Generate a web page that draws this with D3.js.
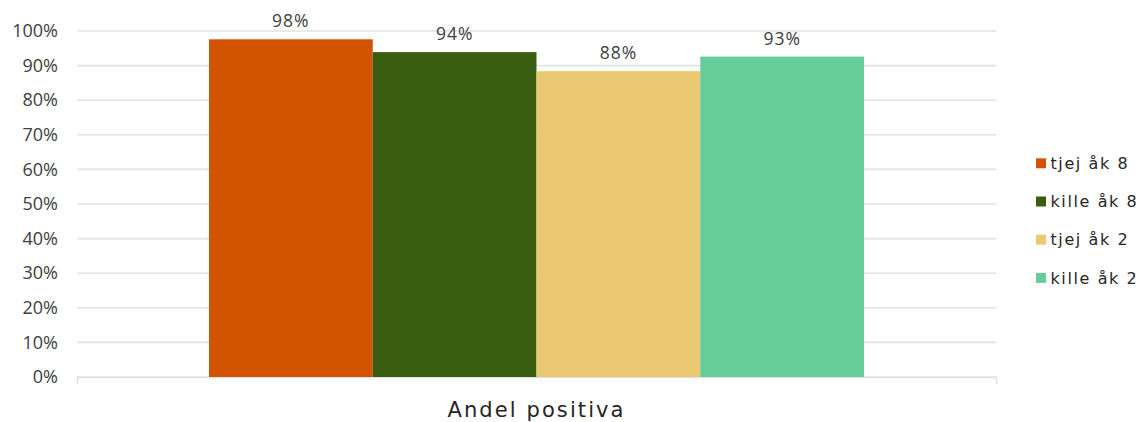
<!DOCTYPE html>
<html>
<head>
<meta charset="utf-8">
<script src="https://cdn.jsdelivr.net/npm/d3@7"></script>
<style>
    body { margin: 0; background: #fff; }
</style>
</head>
<body>
<div id="chart"></div>
<script>

// data
const categories = ["Andel positiva"];
const seriesNames = ["tjej åk 8", "kille åk 8", "tjej åk 2", "kille åk 2"];
const seriesValues = [0.976, 0.939, 0.884, 0.926];
const seriesColors = ["#D35400", "#3A5E0F", "#EBC972", "#66CC99"];
const yTicks = [0, 0.1, 0.2, 0.3, 0.4, 0.5, 0.6, 0.7, 0.8, 0.9, 1];


class BarChart {
    constructor(parentElement) {
        this.parentElement = parentElement;
        this.initVis()
    }

    initVis() {
        let vis = this;

        vis.width = 1140;
        vis.height = 422;
        vis.margin = {top: 31, right: 144, bottom: 45, left: 77};

        vis.svg = d3.select("#" + vis.parentElement).append("svg")
            .attr("width", vis.width)
            .attr("height", vis.height);

        // outer scale for the category, inner one for the four series
        vis.x0 = d3.scaleBand()
            .domain(categories)
            .range([vis.margin.left, vis.width - vis.margin.right])
            .paddingInner(0)
            .paddingOuter(0.2015);

        vis.x1 = d3.scaleBand()
            .domain(seriesNames)
            .range([0, vis.x0.bandwidth()])
            .padding(0);

        vis.y = d3.scaleLinear()
            .domain([0, 1])
            .range([vis.height - vis.margin.bottom, vis.margin.top]);

        vis.updateVis()
    }

    updateVis() {
        let vis = this;
        let fmt = d3.format(".0%");

        // gridlines
        vis.svg.append("g")
            .selectAll("line")
            .data(yTicks)
            .join("line")
            .attr("x1", vis.x0.range()[0])
            .attr("x2", vis.x0.range()[1])
            .attr("y1", d => vis.y(d))
            .attr("y2", d => vis.y(d))
            .attr("stroke", "#e2e2e2")
            .attr("stroke-width", 1.6);

        // y axis labels, no domain line
        let yAxis = vis.svg.append("g")
            .attr("transform", `translate(${vis.margin.left},0)`)
            .call(d3.axisLeft(vis.y).tickValues(yTicks).tickFormat(fmt).tickSize(0).tickPadding(19));
        yAxis.select(".domain").remove();
        yAxis.selectAll("text")
            .attr("font-family", "Open Sans")
            .attr("font-size", "18px")
            .attr("fill", "#404040");

        // bottom axis: only the two end ticks show
        let xAxis = vis.svg.append("g")
            .attr("transform", `translate(0,${vis.y(0)})`)
            .call(d3.axisBottom(vis.x0).tickValues([]).tickSizeOuter(7));
        xAxis.select(".domain")
            .attr("stroke", "#e2e2e2")
            .attr("stroke-width", 1.6);

        // bars
        let groups = vis.svg.append("g")
            .selectAll("g")
            .data(categories)
            .join("g")
            .attr("transform", d => `translate(${vis.x0(d)},0)`);

        let rows = seriesNames.map((s, i) => ({name: s, value: seriesValues[i], color: seriesColors[i]}));

        groups.selectAll("rect")
            .data(rows)
            .join("rect")
            .attr("x", d => vis.x1(d.name))
            .attr("y", d => vis.y(d.value))
            .attr("width", vis.x1.bandwidth())
            .attr("height", d => vis.y(0) - vis.y(d.value))
            .attr("fill", d => d.color);

        // value labels above bars
        groups.selectAll("text.val")
            .data(rows)
            .join("text")
            .attr("class", "val")
            .attr("x", d => vis.x1(d.name) + vis.x1.bandwidth() / 2)
            .attr("y", d => vis.y(d.value) - 18)
            .attr("dy", "0.35em")
            .attr("text-anchor", "middle")
            .attr("font-family", "Open Sans")
            .attr("font-size", "17.5px")
            .attr("letter-spacing", "1px")
            .attr("fill", "#404040")
            .text(d => fmt(d.value));

        // category label
        vis.svg.append("g")
            .selectAll("text")
            .data(categories)
            .join("text")
            .attr("x", d => vis.x0(d) + vis.x0.bandwidth() / 2)
            .attr("y", 417)
            .attr("text-anchor", "middle")
            .attr("font-family", "DejaVu Sans")
            .attr("font-size", "21px")
            .attr("letter-spacing", "2.1px")
            .attr("fill", "#262626")
            .text(d => d);

        // legend
        let legend = vis.svg.append("g")
            .selectAll("g")
            .data(rows)
            .join("g")
            .attr("transform", (d, i) => `translate(1036, ${163.3 + i * 38.2})`);

        legend.append("rect")
            .attr("x", 0)
            .attr("y", -5)
            .attr("width", 10)
            .attr("height", 10)
            .attr("fill", d => d.color);

        legend.append("text")
            .attr("x", 14.5)
            .attr("y", 0)
            .attr("dy", "0.36em")
            .attr("font-family", "DejaVu Sans")
            .attr("font-size", "16px")
            .attr("letter-spacing", "1.6px")
            .attr("fill", "#262626")
            .text(d => d.name);
    }
}

new BarChart("chart");

</script>
</body>
</html>
